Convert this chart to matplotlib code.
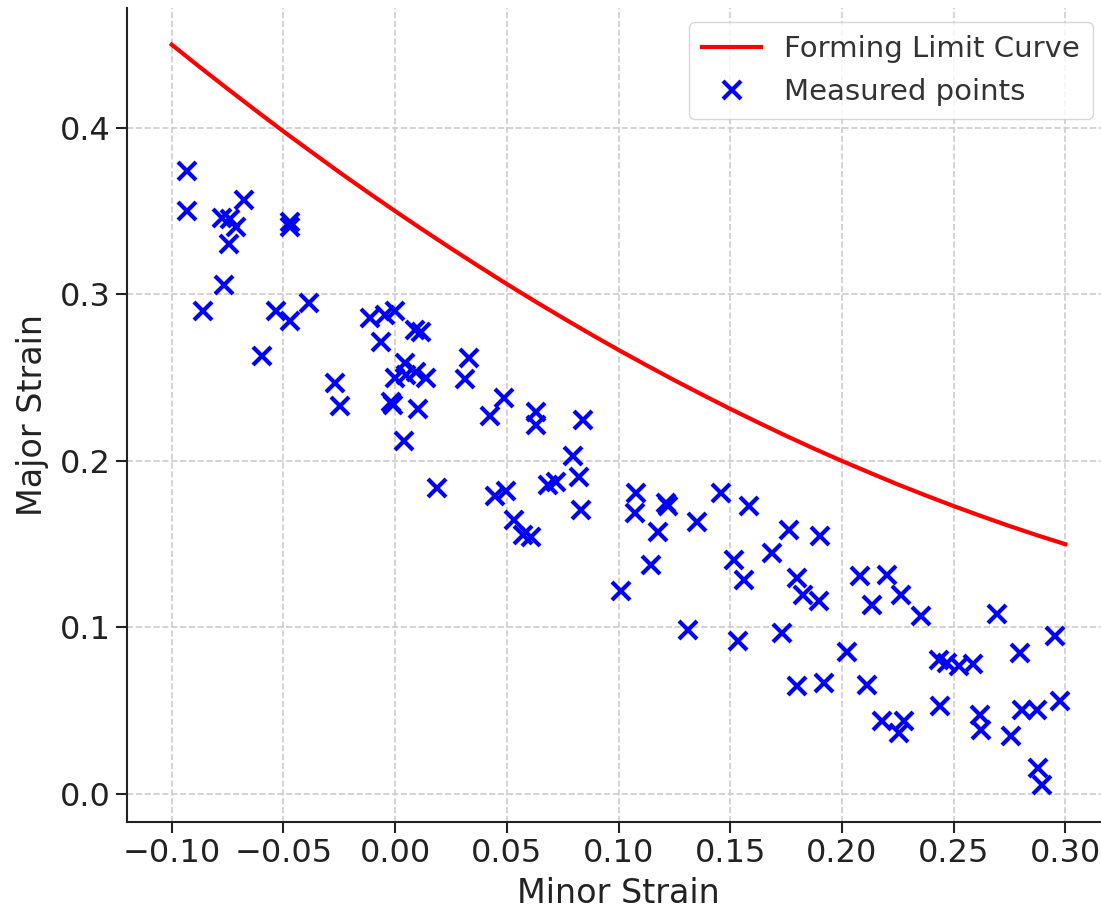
import numpy as np
import matplotlib
matplotlib.use("Agg")
import matplotlib.pyplot as plt

# forming limit curve
flc_minor = [-0.1000, -0.0875, -0.0750, -0.0625, -0.0500, -0.0375, -0.0250, -0.0125,
             0.0000, 0.0125, 0.0250, 0.0375, 0.0500, 0.0625, 0.0750, 0.0875,
             0.1000, 0.1125, 0.1250, 0.1375, 0.1500, 0.1625, 0.1750, 0.1875,
             0.2000, 0.2125, 0.2250, 0.2375, 0.2500, 0.2625, 0.2750, 0.2875, 0.3000]
flc_major = [0.4500, 0.4366, 0.4235, 0.4106, 0.3979, 0.3856, 0.3734, 0.3616,
             0.3500, 0.3387, 0.3276, 0.3168, 0.3062, 0.2959, 0.2859, 0.2761,
             0.2666, 0.2574, 0.2484, 0.2397, 0.2312, 0.2230, 0.2150, 0.2073,
             0.1999, 0.1928, 0.1858, 0.1792, 0.1728, 0.1667, 0.1608, 0.1552, 0.1499]

# measured strain points
minor = [-0.0930, -0.0930, -0.0858, -0.0773, -0.0739, -0.0710, -0.0675, -0.0744, -0.0766,
         -0.0471, -0.0471, -0.0534, -0.0471, -0.0386, -0.0595, -0.0270, -0.0245, -0.0114,
         -0.0047, -0.0002, -0.0065, 0.0087, 0.0114, 0.0043, -0.0002, 0.0050, 0.0095,
         0.0140, -0.0017, -0.0009, 0.0103, 0.0040, 0.0333, 0.0311, 0.0487, 0.0427,
         0.0631, 0.0631, 0.0840, 0.0795, 0.0825, 0.0832, 0.0189, 0.0445, 0.0497,
         0.0534, 0.0572, 0.0609, 0.0684, 0.0721, 0.1078, 0.1074, 0.1212, 0.1220,
         0.1175, 0.1351, 0.1458, 0.1585, 0.1145, 0.1011, 0.1312, 0.1515, 0.1560,
         0.1689, 0.1763, 0.1902, 0.1801, 0.1828, 0.1897, 0.1533, 0.1734, 0.1801,
         0.1920, 0.2081, 0.2200, 0.2136, 0.2263, 0.2355, 0.2024, 0.2114, 0.2181,
         0.2277, 0.2255, 0.2434, 0.2471, 0.2523, 0.2587, 0.2441, 0.2695, 0.2617,
         0.2623, 0.2757, 0.2799, 0.2955, 0.2806, 0.2873, 0.2975, 0.2876, 0.2896]
major = [0.3742, 0.3502, 0.2897, 0.3458, 0.3455, 0.3407, 0.3568, 0.3302, 0.3057,
         0.3437, 0.3407, 0.2897, 0.2837, 0.2947, 0.2631, 0.2467, 0.2332, 0.2857,
         0.2873, 0.2897, 0.2713, 0.2787, 0.2771, 0.2587, 0.2497, 0.2517, 0.2536,
         0.2497, 0.2356, 0.2336, 0.2311, 0.2116, 0.2617, 0.2491, 0.2380, 0.2266,
         0.2296, 0.2216, 0.2246, 0.2026, 0.1900, 0.1706, 0.1836, 0.1786, 0.1816,
         0.1646, 0.1556, 0.1545, 0.1856, 0.1870, 0.1806, 0.1686, 0.1746, 0.1726,
         0.1575, 0.1635, 0.1806, 0.1726, 0.1375, 0.1215, 0.0981, 0.1405, 0.1285,
         0.1446, 0.1586, 0.1550, 0.1296, 0.1195, 0.1155, 0.0915, 0.0965, 0.0649,
         0.0665, 0.1305, 0.1315, 0.1131, 0.1195, 0.1065, 0.0849, 0.0655, 0.0434,
         0.0434, 0.0365, 0.0805, 0.0785, 0.0765, 0.0781, 0.0529, 0.1081, 0.0474,
         0.0384, 0.0348, 0.0845, 0.0945, 0.0505, 0.0505, 0.0554, 0.0154, 0.0054]

xticks = [-0.10, -0.05, 0.00, 0.05, 0.10, 0.15, 0.20, 0.25, 0.30]
yticks = [0.0, 0.1, 0.2, 0.3, 0.4]

plt.rcParams['font.family'] = ['DejaVu Sans']
fig = plt.figure(figsize=(11.01, 9.09), dpi=100)
ax = fig.add_axes([127 / 1101, 87 / 909, 983 / 1101, 814 / 909])

ax.plot(flc_minor, flc_major, color='red', lw=3, label='Forming Limit Curve')
ax.plot(minor, major, 'x', color='blue', ms=13, mew=3, ls='none', label='Measured points')

ax.set_xlim(-0.12, 0.32)
ax.set_ylim(-0.017, 0.472)
ax.set_xticks(xticks)
ax.set_xticklabels([f'{v:.2f}'.replace('-', '\u2212') for v in xticks])
ax.set_yticks(yticks)
ax.set_yticklabels([f'{v:.1f}' for v in yticks])
ax.tick_params(labelsize=23, length=8, width=1.5, colors='#222222')
ax.grid(True, ls='--', color='#cccccc', lw=1.2)
ax.set_axisbelow(True)
for s in ['top', 'right']:
    ax.spines[s].set_visible(False)
for s in ['left', 'bottom']:
    ax.spines[s].set_linewidth(1.5)
    ax.spines[s].set_color('#222222')

ax.set_xlabel('Minor Strain', fontsize=24, color='#222222', labelpad=6)
ax.set_ylabel('Major Strain', fontsize=24, color='#222222', labelpad=8)

leg = ax.legend(loc='upper right', bbox_to_anchor=(1093 / 1101, 1 - 22 / 909),
                bbox_transform=fig.transFigure, fontsize=21, frameon=True,
                borderpad=0.45, borderaxespad=0, handlelength=2.0)
leg.get_frame().set_edgecolor('#cccccc')
for t in leg.get_texts():
    t.set_color('#333333')

fig.savefig('out.png', dpi=100)
